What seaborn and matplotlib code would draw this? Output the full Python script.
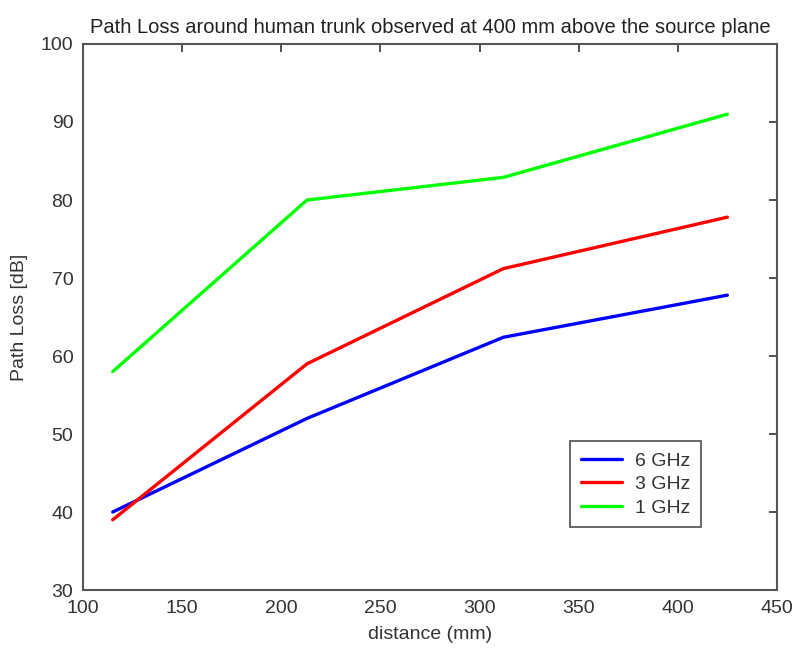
import pandas as pd
import numpy as np
import matplotlib
matplotlib.use("Agg")
import matplotlib.pyplot as plt
import seaborn as sns

# data
distance = [115, 213, 312, 425]
loss_6ghz = [40, 52, 62.4, 67.8]
loss_3ghz = [39, 59, 71.2, 77.8]
loss_1ghz = [58, 80, 82.9, 91]
labels = ["6 GHz", "3 GHz", "1 GHz"]
colors = ["#0000ff", "#ff0000", "#00ff00"]

df = pd.concat([
    pd.DataFrame({"distance": distance, "loss": vals, "band": lab})
    for vals, lab in zip([loss_6ghz, loss_3ghz, loss_1ghz], labels)
])

sns.set_style("white")
plt.rcParams["font.family"] = ["Liberation Sans Narrow", "Liberation Sans", "DejaVu Sans"]

fig = plt.figure(figsize=(7.94, 6.48), dpi=100)
ax = fig.add_axes([0.1045, 0.0895, 0.874, 0.8426])

sns.lineplot(data=df, x="distance", y="loss", hue="band", hue_order=labels,
             palette=colors, linewidth=2.4, ax=ax, sort=False)

ax.set_xlim(100, 450)
ax.set_ylim(30, 100)
ax.set_xticks(np.arange(100, 451, 50))
ax.set_yticks(np.arange(30, 101, 10))
ax.tick_params(direction="in", length=6, width=1.2, top=True, right=True,
               labelsize=14, colors="#333333", pad=7)
for sp in ax.spines.values():
    sp.set_visible(True)
    sp.set_color("#555555")
    sp.set_linewidth(1.5)

# title + axis labels
ax.set_title("Path Loss around human trunk observed at 400 mm above the source plane",
             fontsize=14.5, color="#222222", pad=8)
ax.set_xlabel("distance (mm)", fontsize=14, color="#333333", labelpad=7)
ax.set_ylabel("Path Loss [dB]", fontsize=14, color="#333333", labelpad=9)

leg = ax.legend(loc="lower left", bbox_to_anchor=(0.702, 0.115), fontsize=14,
                fancybox=False, frameon=True, handlelength=2.1,
                borderpad=0.55, labelspacing=0.3, handletextpad=0.7,
                borderaxespad=0)
leg.get_frame().set_edgecolor("#333333")
leg.get_frame().set_linewidth(1.3)
for t in leg.get_texts():
    t.set_color("#333333")

fig.savefig("out.png", dpi=100)
